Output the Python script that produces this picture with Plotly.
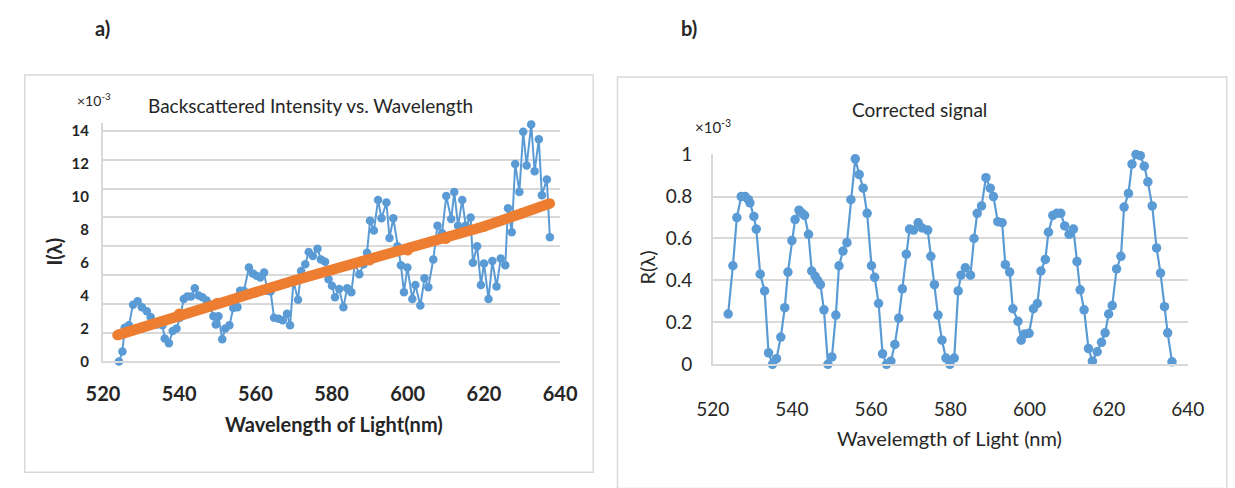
import plotly.graph_objects as go

# ---------------- data ----------------
# Panel a) backscattered intensity (x10^-3)
lam_a = [524.2, 525.1, 525.7, 526.8, 527.9, 529.1, 530.2, 531.5, 532.5, 533.0,
         534.2, 535.6, 536.2, 537.3, 538.3, 539.3, 540.2, 541.2, 542.1, 543.1,
         544.1, 545.1, 546.1, 547.2, 548.2, 549.0, 549.6, 550.3, 551.3, 552.1,
         553.2, 554.2, 555.3, 556.0, 557.0, 558.3, 559.3, 560.3, 561.3, 562.3,
         563.1, 564.0, 564.9, 566.1, 567.2, 568.3, 569.1, 570.0, 571.2, 572.0,
         573.1, 574.0, 575.1, 576.3, 577.2, 578.3, 579.2, 580.1, 580.9, 582.0,
         583.1, 584.1, 585.2, 586.1, 587.3, 588.4, 589.3, 590.1, 591.1, 592.2,
         593.1, 594.4, 595.2, 596.2, 597.3, 598.2, 599.0, 599.9, 601.2, 602.0,
         603.3, 604.4, 605.4, 606.7, 607.8, 609.0, 610.1, 611.4, 612.2, 613.2,
         614.3, 615.2, 616.5, 617.1, 618.2, 619.2, 620.0, 621.2, 622.2, 623.3,
         624.4, 625.6, 626.3, 627.3, 628.2, 629.3, 630.3, 631.2, 632.4, 633.3,
         634.4, 635.2, 636.5, 637.3]
int_a = [0.0, 0.6, 2.05, 2.2, 3.45, 3.65, 3.3, 3.05, 2.7, 2.25,
         2.25, 2.2, 1.4, 1.1, 1.85, 2.0, 2.65, 3.8, 3.95, 3.95,
         4.45, 4.0, 3.9, 3.7, 3.3, 2.75, 2.25, 2.75, 1.35, 2.0,
         2.2, 3.25, 3.3, 4.3, 4.3, 5.7, 5.35, 5.2, 5.1, 5.4,
         4.3, 4.25, 2.65, 2.6, 2.5, 2.9, 2.2, 4.85, 3.75, 5.5,
         5.9, 6.65, 6.4, 6.85, 6.2, 6.05, 5.0, 4.6, 3.9, 4.4,
         3.3, 4.45, 4.2, 5.95, 5.3, 5.9, 6.6, 8.55, 7.95, 9.8,
         8.7, 9.65, 7.5, 8.7, 7.0, 5.85, 4.2, 5.7, 3.8, 4.65,
         3.4, 5.05, 4.5, 6.2, 8.25, 7.8, 10.05, 8.65, 10.3, 8.25,
         9.8, 8.25, 8.75, 6.0, 7.0, 4.65, 5.95, 3.8, 6.1, 4.55,
         6.25, 5.85, 9.3, 7.85, 12.0, 10.3, 13.95, 11.9, 14.4, 11.55,
         13.5, 10.1, 11.05, 7.55]

# Panel a) fitted trend (orange)
lam_fit = [523.8, 530, 540, 550, 560, 570, 580, 590, 600, 610, 620, 630, 637.3]
int_fit = [1.6, 2.05, 2.9, 3.55, 4.2, 4.9, 5.55, 6.15, 6.75, 7.45, 8.2, 9.0, 9.6]

# Panel b) corrected signal (x10^-3)
lam_b = [523.9, 525.1, 526.1, 527.2, 528.2, 529.0, 529.4, 530.4, 531.0, 532.0,
         533.1, 534.1, 535.1, 536.1, 537.2, 538.2, 539.0, 540.0, 540.8, 541.8,
         542.6, 543.2, 544.2, 545.0, 545.9, 546.5, 547.2, 548.1, 549.1, 550.1,
         551.1, 551.9, 552.9, 553.9, 554.9, 556.0, 557.0, 558.0, 559.0, 560.1,
         560.9, 561.9, 562.9, 563.9, 565.0, 566.0, 567.0, 567.9, 568.9, 569.7,
         570.7, 571.9, 572.9, 574.3, 575.1, 576.0, 576.9, 577.9, 578.9, 579.9,
         581.0, 582.0, 582.7, 583.8, 585.1, 586.0, 586.8, 587.9, 589.0, 590.1,
         590.9, 592.0, 593.1, 593.9, 595.0, 595.8, 597.1, 597.9, 598.8, 599.9,
         601.0, 602.0, 602.9, 604.0, 604.8, 605.9, 606.9, 607.9, 608.9, 610.0,
         611.1, 612.0, 612.8, 613.8, 614.9, 615.9, 617.1, 618.2, 619.1, 620.0,
         620.9, 622.0, 623.1, 623.9, 625.0, 625.9, 626.9, 628.0, 629.0, 629.9,
         631.0, 632.1, 633.1, 634.1, 634.9, 636.0]
r_b = [0.24, 0.47, 0.70, 0.80, 0.80, 0.785, 0.77, 0.705, 0.645, 0.43,
       0.35, 0.055, 0.0, 0.027, 0.13, 0.27, 0.44, 0.59, 0.69, 0.735,
       0.72, 0.71, 0.62, 0.445, 0.42, 0.40, 0.38, 0.26, 0.0, 0.035,
       0.235, 0.47, 0.54, 0.58, 0.785, 0.98, 0.905, 0.84, 0.72, 0.47,
       0.415, 0.29, 0.05, 0.0, 0.015, 0.095, 0.22, 0.36, 0.525, 0.645,
       0.64, 0.675, 0.65, 0.64, 0.515, 0.38, 0.235, 0.115, 0.03, 0.0,
       0.03, 0.35, 0.425, 0.46, 0.425, 0.60, 0.72, 0.755, 0.89, 0.84,
       0.80, 0.68, 0.675, 0.475, 0.44, 0.265, 0.205, 0.115, 0.145, 0.148,
       0.265, 0.29, 0.445, 0.50, 0.63, 0.71, 0.72, 0.72, 0.66, 0.62,
       0.645, 0.49, 0.355, 0.26, 0.075, 0.015, 0.06, 0.105, 0.15, 0.24,
       0.28, 0.455, 0.515, 0.75, 0.815, 0.955, 1.0, 0.995, 0.945, 0.87,
       0.755, 0.555, 0.435, 0.275, 0.15, 0.012]

x_ticks = [520, 540, 560, 580, 600, 620, 640]
ya_ticks = [0, 2, 4, 6, 8, 10, 12, 14]
yb_ticks = [0, 0.2, 0.4, 0.6, 0.8, 1.0]
yb_text = ["0", "0.2", "0.4", "0.6", "0.8", "1"]

# ---------------- layout helpers ----------------
W, H = 1235, 488
def px(x):
    return x / W
def py(y):
    return 1 - y / H

FONT = "Lato, Open Sans, sans-serif"
TXT = "#262626"
BLUE = "#5b9bd5"
ORANGE = "#ed7d31"
GRID = "#d9d9d9"

fig = go.Figure()

# base (gridline) subplot of panel a
fig.add_trace(go.Scatter(x=[], y=[], xaxis="x", yaxis="y", showlegend=False, hoverinfo="skip"))
fig.add_trace(go.Scatter(x=lam_a, y=int_a, mode="lines+markers", xaxis="x", yaxis="y3",
                         line=dict(color=BLUE, width=2), marker=dict(color=BLUE, size=8.5),
                         cliponaxis=False, showlegend=False))
fig.add_trace(go.Scatter(x=lam_fit, y=int_fit, mode="lines+markers", xaxis="x", yaxis="y3",
                         line=dict(color=ORANGE, width=10.5), marker=dict(color=ORANGE, size=10.5),
                         cliponaxis=False, showlegend=False))
fig.add_trace(go.Scatter(x=lam_b, y=r_b, mode="lines+markers", xaxis="x2", yaxis="y2",
                         line=dict(color=BLUE, width=2.2), marker=dict(color=BLUE, size=9.5),
                         cliponaxis=False, showlegend=False))

ya_top = 14.5
layout = dict(
    width=W, height=H, margin=dict(l=0, r=0, t=0, b=0),
    paper_bgcolor="white", plot_bgcolor="white",
    font=dict(family=FONT, color=TXT),
    showlegend=False,
    xaxis=dict(domain=[px(88.5), px(559)], range=[520, 640], tickvals=x_ticks,
               showgrid=False, zeroline=False, showline=True, linecolor=GRID, linewidth=2,
               ticks="", tickfont=dict(size=20, family=FONT, color=TXT, weight="bold"),
               ticklabelstandoff=14, anchor="y", fixedrange=True),
    yaxis=dict(domain=[py(367), py(117)], range=[0, ya_top / 1.75], dtick=1, tick0=0,
               showgrid=True, gridcolor=GRID, gridwidth=2, zeroline=False,
               showline=True, linecolor=GRID, linewidth=1.5, showticklabels=False,
               ticks="", anchor="x", fixedrange=True),
    yaxis3=dict(overlaying="y", range=[0, ya_top], tickvals=ya_ticks, showgrid=False,
                zeroline=False, showline=False, ticks="", anchor="x",
                tickfont=dict(size=15, family=FONT, color=TXT, weight="bold"),
                ticklabelstandoff=13, fixedrange=True),
    xaxis2=dict(domain=[px(716), px(1205)], range=[520, 640], tickvals=x_ticks,
                showgrid=False, zeroline=False, showline=True, linecolor=GRID, linewidth=2,
                ticks="", tickfont=dict(size=19, family=FONT, color=TXT),
                ticklabelstandoff=27, anchor="y2", fixedrange=True),
    yaxis2=dict(domain=[py(370), py(149.5)], range=[0, 1.004], tickvals=yb_ticks, ticktext=yb_text,
                showgrid=True, gridcolor=GRID, gridwidth=2, zeroline=False,
                showline=True, linecolor=GRID, linewidth=1.5, ticks="",
                tickfont=dict(size=19, family=FONT, color=TXT),
                ticklabelstandoff=15, anchor="x2", fixedrange=True),
)
fig.update_layout(**layout)

def ann(text, x, y, size, bold=False, angle=0, xanchor="center"):
    fig.add_annotation(text=text, x=px(x), y=py(y), xref="paper", yref="paper",
                       xanchor=xanchor, yanchor="middle", showarrow=False, textangle=angle,
                       font=dict(size=size, family=FONT, color=TXT,
                                 weight="bold" if bold else "normal"))

ann("a)", 88, 18, 20, bold=True)
ann("b)", 692, 18, 20, bold=True)
ann("Backscattered Intensity vs. Wavelength", 302, 99, 19)
ann("×10<sup>-3</sup>", 79, 93, 14)
ann("Wavelength of Light(nm)", 326, 433, 20, bold=True)
ann("I(λ)", 38, 252, 20, bold=True, angle=-90)
ann("Corrected signal", 929, 103, 19)
ann("×10<sup>-3</sup>", 716, 121, 15)
ann("Wavelemgth of Light (nm)", 960, 447, 20)
ann("R(λ)", 648, 269, 20, angle=-90)

# panel frames
fig.add_shape(type="rect", xref="paper", yref="paper", x0=px(8), x1=px(593), y0=py(483), y1=py(67),
              line=dict(color=GRID, width=1.5), fillcolor="rgba(0,0,0,0)", layer="below")
fig.add_shape(type="rect", xref="paper", yref="paper", x0=px(618), x1=px(1245), y0=py(500), y1=py(69),
              line=dict(color=GRID, width=1.5), fillcolor="rgba(0,0,0,0)", layer="below")

fig.write_html("out.html", config={"displayModeBar": False},
               post_script="document.body.style.margin='0px';")
